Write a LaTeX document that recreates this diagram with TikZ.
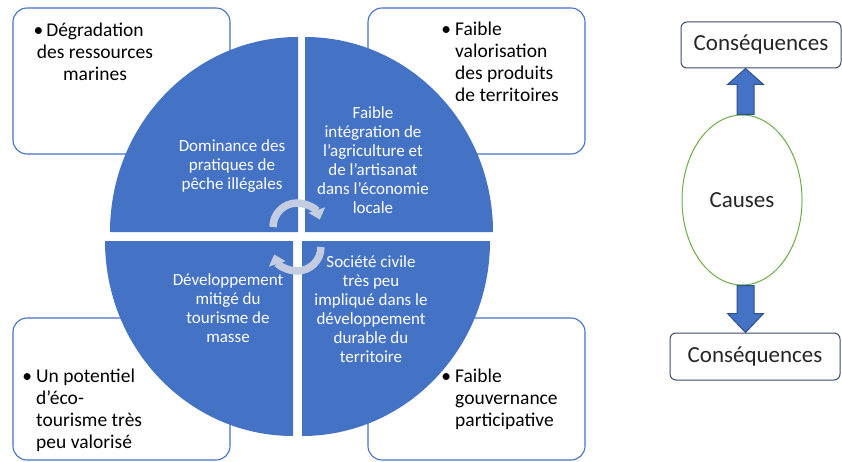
\documentclass[tikz,border=0pt]{standalone}
\usepackage{fontspec}
\setmainfont{Carlito}
\usetikzlibrary{arrows.meta,calc,shapes.geometric}
\definecolor{qblue}{HTML}{4472C4}
\definecolor{qdark}{HTML}{2F528F}
\definecolor{cgreen}{HTML}{70AD47}
\definecolor{carrowc}{HTML}{C3CCE1}
\definecolor{cboxline}{HTML}{3B4A6B}
\newcommand{\itemstrut}{\rule{0pt}{15pt}}
\newcommand{\quadstrut}{\rule{0pt}{13pt}}
\begin{document}
\begin{tikzpicture}[x=1pt,y=1pt,
 cornerbox/.style={draw=qblue, line width=1.1pt, fill=white, rounded corners=14pt, minimum width=217pt, minimum height=146pt, inner sep=0pt},
 itemtext/.style={font=\fontsize{19.5}{22}\selectfont, inner sep=0pt, text=black},
 quadtext/.style={font=\fontsize{17}{19}\selectfont, inner sep=0pt, text=white, align=center, anchor=north},
 quad/.style={fill=qblue},
 conbox/.style={draw=cboxline, line width=1pt, rounded corners=6pt, fill=white, font=\fontsize{23}{26}\selectfont, inner sep=0pt, text=black!85},
 blockarrow/.style={fill=qblue, draw=qdark, line width=1pt, line join=miter},
 cycarrow/.style={draw=carrowc, line width=7.5pt, -{Triangle[width=17pt,length=10pt]}},
]
\useasboundingbox (0,0) rectangle (842,-462);
\fill[white] (0,0) rectangle (842,-462);

% corner boxes
\node[cornerbox] (boxtl) at (121.5,-81) {};
\node[cornerbox] (boxtr) at (476.5,-81) {};
\node[cornerbox, minimum height=142pt] (boxbl) at (121.5,-389) {};
\node[cornerbox, minimum height=142pt] (boxbr) at (476.5,-389) {};

\node[itemtext, align=center, anchor=north] (ttl) at (95,-21)
 {\itemstrut\llap{•\hspace{3pt}}Dégradation\\des ressources\\marines};
\node[itemtext, align=left, anchor=north west] (ttr) at (455,-20)
 {\itemstrut\llap{•\hspace{4pt}}Faible\\valorisation\\des produits\\de territoires};
\node[itemtext, align=left, anchor=north west] (tbl) at (36,-367)
 {\itemstrut\llap{•\hspace{4pt}}Un potentiel\\d’éco-\\tourisme très\\peu valorisé};
\node[itemtext, align=left, anchor=north west] (tbr) at (455,-367)
 {\itemstrut\llap{•\hspace{4pt}}Faible\\gouvernance\\participative};

% quadrants
\fill[quad] (298,-232) -- (110,-232) arc[start angle=180, end angle=90, x radius=188, y radius=195] -- cycle;
\fill[quad] (305,-232) -- (305,-37) arc[start angle=90, end angle=0, x radius=188, y radius=195] -- cycle;
\fill[quad] (293,-241) -- (105,-241) arc[start angle=180, end angle=270, x radius=188, y radius=195] -- cycle;
\fill[quad] (302,-241) -- (490,-241) arc[start angle=0, end angle=-90, x radius=188, y radius=195] -- cycle;

\node[quadtext] (qtl) at (232,-138) {\quadstrut Dominance des\\pratiques de\\pêche illégales};
\node[quadtext] (qtr) at (373,-105) {\quadstrut Faible\\intégration de\\l’agriculture et\\de l’artisanat\\dans l’économie\\locale};
\node[quadtext] (qbl) at (228,-272) {\quadstrut Développement\\mitigé du\\tourisme de\\masse};
\node[quadtext] (qbr) at (371,-254) {\quadstrut Société civile\\très peu\\impliqué dans le\\développement\\durable du\\territoire};

% cycle arrows
\draw[cycarrow] (273,-227) arc[start angle=180, end angle=18, radius=24];
\draw[cycarrow] (321,-247) arc[start angle=0, end angle=-162, radius=24];

% right legend
\node[conbox, minimum width=160pt, minimum height=46pt] (ctop) at (761,-45) {Conséquences};
\node[conbox, minimum width=170pt, minimum height=47pt] (cbot) at (755,-356.5) {Conséquences};
\node[ellipse, draw=cgreen, line width=1pt, fill=white, minimum width=120pt, minimum height=170pt, inner sep=0pt,
      font=\fontsize{23}{26}\selectfont, text=black!85] (causes) at (742,-200) {Causes};

\coordinate (ua) at ($(causes.north)+(3.5,0)$);
\coordinate (ub) at (ua |- ctop.south);
\draw[blockarrow] ($(ua)+(-8.5,0)$) -- ($(ua)+(-8.5,30)$) -- ($(ua)+(-18,30)$) -- (ub)
  -- ($(ua)+(18,30)$) -- ($(ua)+(8.5,30)$) -- ($(ua)+(8.5,0)$) -- cycle;
\coordinate (da) at ($(causes.south)+(3.5,0)$);
\coordinate (db) at (da |- cbot.north);
\draw[blockarrow] ($(da)+(-8.5,0)$) -- ($(da)+(-8.5,-28)$) -- ($(da)+(-18,-28)$) -- (db)
  -- ($(da)+(18,-28)$) -- ($(da)+(8.5,-28)$) -- ($(da)+(8.5,0)$) -- cycle;
\end{tikzpicture}
\end{document}
